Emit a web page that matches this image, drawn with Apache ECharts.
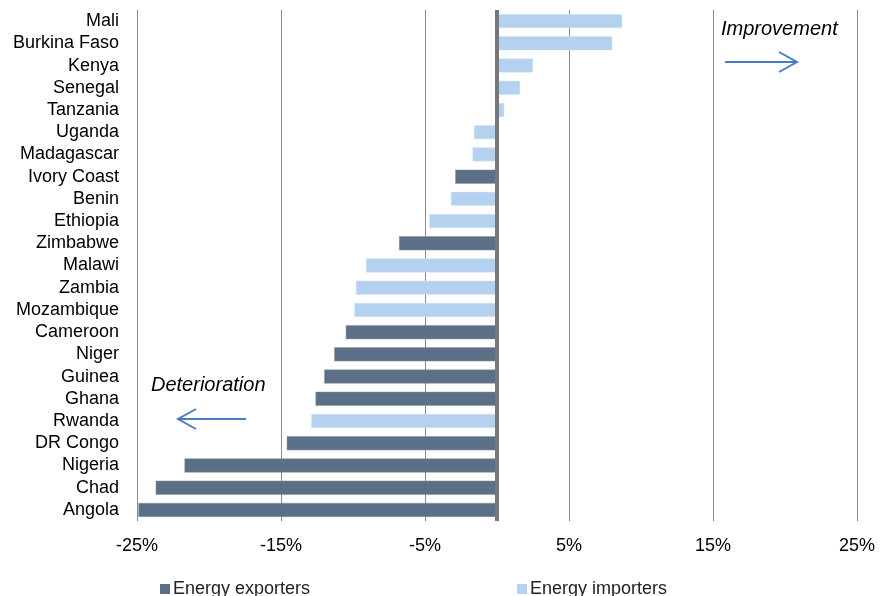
<!DOCTYPE html>
<html>
<head>
<meta charset="utf-8">
<script src="https://cdn.jsdelivr.net/npm/echarts@6/dist/echarts.min.js"></script>
<style>
html,body{margin:0;padding:0;background:#fff;}
#c{width:889px;height:596px;}
</style>
</head>
<body>
<div id="c"></div>
<script>
var categories = ['Mali','Burkina Faso','Kenya','Senegal','Tanzania','Uganda','Madagascar','Ivory Coast','Benin','Ethiopia','Zimbabwe','Malawi','Zambia','Mozambique','Cameroon','Niger','Guinea','Ghana','Rwanda','DR Congo','Nigeria','Chad','Angola'];
var exporters = [null,null,null,null,null,null,null,-2.9,null,null,-6.8,null,null,null,-10.5,-11.3,-12.0,-12.6,null,-14.6,-21.7,-23.7,-24.9];
var importers = [8.7,8.0,2.5,1.6,0.5,-1.6,-1.7,null,-3.2,-4.7,null,-9.1,-9.8,-9.9,null,null,null,null,-12.9,null,null,null,null];
var xTicks = [-25,-15,-5,5,15,25];

var FONT = "'Liberation Sans', Arial, sans-serif";
var chart = echarts.init(document.getElementById('c'), null, {renderer:'canvas'});
chart.setOption({
  animation:false,
  backgroundColor:'#fff',
  grid:{left:137,right:32,top:10,bottom:75,containLabel:false},
  legend:{
    left:155, top:575, itemWidth:10, itemHeight:10, itemGap:207, icon:'rect',
    itemStyle:{borderWidth:0},
    textStyle:{fontFamily:FONT,fontSize:18,color:'#222',padding:[0,0,0,-2]},
    data:['Energy exporters','Energy importers']
  },
  xAxis:{
    type:'value', min:xTicks[0], max:xTicks[xTicks.length-1], interval:10,
    axisLine:{show:false}, axisTick:{show:false},
    splitLine:{show:true,lineStyle:{color:'#8a8a8a',width:1}},
    axisLabel:{formatter:'{value}%',fontFamily:FONT,fontSize:18,color:'#000',margin:16}
  },
  yAxis:{
    type:'category', data:categories, inverse:true,
    axisLine:{show:false}, axisTick:{show:false}, splitLine:{show:false},
    axisLabel:{interval:0,hideOverlap:false,fontFamily:FONT,fontSize:18,color:'#000',margin:18}
  },
  series:[
    {name:'Energy exporters',type:'bar',stack:'t',data:exporters,barWidth:14,
     itemStyle:{color:'#5b7086',borderColor:'#8394a6',borderWidth:0.5},
     markLine:{silent:true,symbol:['none','none'],label:{show:false},
       lineStyle:{color:'#777777',width:4,type:'solid'},data:[{xAxis:0}],z:10}},
    {name:'Energy importers',type:'bar',stack:'t',data:importers,barWidth:14,
     itemStyle:{color:'#b4d2f0',borderColor:'#d2e4f6',borderWidth:0.5}}
  ],
  graphic:[
    {type:'text',style:{x:721,y:29,text:'Improvement',font:'italic 20px '+FONT,fill:'#000',align:'left',verticalAlign:'middle'}},
    {type:'line',shape:{x1:725,y1:62,x2:797,y2:62},style:{stroke:'#4a7dc0',lineWidth:2}},
    {type:'polyline',shape:{points:[[779,52],[797,62],[779,72]]},style:{stroke:'#4a7dc0',lineWidth:2,fill:null}},
    {type:'text',style:{x:151,y:385,text:'Deterioration',font:'italic 20px '+FONT,fill:'#000',align:'left',verticalAlign:'middle'}},
    {type:'line',shape:{x1:178,y1:419,x2:246,y2:419},style:{stroke:'#4a7dc0',lineWidth:2}},
    {type:'polyline',shape:{points:[[196,409],[178,419],[196,429]]},style:{stroke:'#4a7dc0',lineWidth:2,fill:null}}
  ]
});
</script>
</body>
</html>
